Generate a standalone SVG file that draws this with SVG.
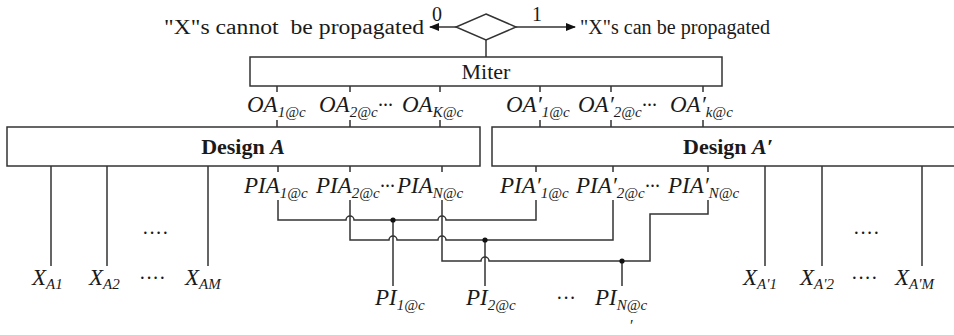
<svg xmlns="http://www.w3.org/2000/svg" width="954" height="335" viewBox="0 0 954 335">
<style>
text{font-family:"Liberation Serif","Times New Roman",serif;fill:#1a1a1a}
.t{font-size:20px}
.L{font-size:23px}
.i{font-style:italic}
.b{font-weight:bold}
.box{fill:#fff;stroke:#333;stroke-width:1.5}
.w{fill:none;stroke:#333;stroke-width:1.5}
.s{font-size:15px}
.dot{fill:#111}
</style>
<defs>
<marker id="ah" markerWidth="10" markerHeight="8" refX="9" refY="4" orient="auto" markerUnits="userSpaceOnUse">
<path d="M0,0 L10,4 L0,8 Z" fill="#111"/>
</marker>
</defs>
<rect width="954" height="335" fill="#fff"/>

<g id="decision">
<path class="w" d="M486,14 L516,27 L486,40 L456,27 Z"/>
<text class="t" x="437" y="21" text-anchor="middle">0</text>
<text class="t" x="537" y="21" text-anchor="middle">1</text>
<text class="t" x="164" y="34" textLength="260" lengthAdjust="spacingAndGlyphs" xml:space="preserve">"X"s cannot  be propagated</text>
<text class="t" x="580" y="34" textLength="190" lengthAdjust="spacingAndGlyphs">"X"s can be propagated</text>
</g>

<g id="miter">
<rect class="box" x="250" y="57" width="472" height="29"/>
<text class="t" x="486" y="79" text-anchor="middle" style="font-size:22px">Miter</text>
</g>

<g id="designA">
<rect class="box" x="7" y="127" width="473" height="39"/>
<text class="t b" x="243" y="154" text-anchor="middle" style="font-size:22px">Design <tspan class="i">A</tspan></text>
</g>

<g id="designA2">
<rect class="box" x="492" y="127" width="470" height="39"/>
<text class="t b" x="728" y="154" text-anchor="middle" style="font-size:22px">Design <tspan class="i">A′</tspan></text>
</g>

<g id="oa-labels">
<text class="L i" x="247" y="112">OA<tspan class="s" dy="5">1@c</tspan></text>
<text class="L i" x="319" y="112">OA<tspan class="s" dy="5">2@c</tspan><tspan class="t" dy="-5">···</tspan></text>
<text class="L i" x="402" y="112">OA<tspan class="s" dy="5">K@c</tspan></text>
<text class="L i" x="506" y="112">OA′<tspan class="s" dy="5">1@c</tspan></text>
<text class="L i" x="578" y="112">OA′<tspan class="s" dy="5">2@c</tspan><tspan class="t" dy="-5">···</tspan></text>
<text class="L i" x="670" y="112">OA′<tspan class="s" dy="5">k@c</tspan></text>
</g>

<g id="pia-labels">
<text class="L i" x="244" y="193">PIA<tspan class="s" dy="5">1@c</tspan></text>
<text class="L i" x="316" y="193">PIA<tspan class="s" dy="5">2@c</tspan><tspan class="t" dy="-5">···</tspan></text>
<text class="L i" x="397" y="193">PIA<tspan class="s" dy="5">N@c</tspan></text>
<text class="L i" x="500" y="193">PIA′<tspan class="s" dy="5">1@c</tspan></text>
<text class="L i" x="576" y="193">PIA′<tspan class="s" dy="5">2@c</tspan><tspan class="t" dy="-5">···</tspan></text>
<text class="L i" x="668" y="193">PIA′<tspan class="s" dy="5">N@c</tspan></text>
</g>

<g id="x-labels">
<text class="L i" x="32" y="285">X<tspan class="s" dy="4">A1</tspan></text>
<text class="L i" x="89" y="285">X<tspan class="s" dy="4">A2</tspan></text>
<text class="t" x="139" y="285">····</text>
<text class="L i" x="185" y="285">X<tspan class="s" dy="4">AM</tspan></text>
<text class="t" x="142" y="240">····</text>
<text class="L i" x="743" y="285">X<tspan class="s" dy="4">A'1</tspan></text>
<text class="L i" x="800" y="285">X<tspan class="s" dy="4">A'2</tspan></text>
<text class="t" x="851" y="285">····</text>
<text class="L i" x="895" y="285">X<tspan class="s" dy="4">A'M</tspan></text>
<text class="t" x="853" y="240">····</text>
</g>

<g id="pi-labels">
<text class="L i" x="375" y="305">PI<tspan class="s" dy="5">1@c</tspan></text>
<text class="L i" x="466" y="305">PI<tspan class="s" dy="5">2@c</tspan></text>
<text class="t" x="556" y="305">···</text>
<text class="L i" x="595" y="305">PI<tspan class="s" dy="5">N@c</tspan></text>
<text class="i" x="629" y="331" style="font-size:16px">′</text>
</g>

<g id="connectors">
<line class="w" x1="456" y1="27" x2="430" y2="27" marker-end="url(#ah)"/>
<line class="w" x1="516" y1="27" x2="575" y2="27" marker-end="url(#ah)"/>
<line class="w" x1="486" y1="40" x2="486" y2="57"/>
<path class="w" d="M277,86V92M277,120V127M350,86V92M350,120V127M440,86V92M440,120V127M540,86V92M540,120V127M611,86V92M611,120V127M703,86V92M703,120V127"/>
<path class="w" d="M278,166V172M350,166V172M442,166V172M536,166V172M613,166V172M708,166V172"/>
<path class="w" d="M51,166V266M107,166V266M208,166V266M765,166V266M822,166V266M922,166V266"/>
<path class="w" d="M278,200V220H346a4,4 0 0 1 8,0H438a4,4 0 0 1 8,0H536V200"/>
<path class="w" d="M350,200V240H389a4,4 0 0 1 8,0H438a4,4 0 0 1 8,0H613V200"/>
<path class="w" d="M442,200V261H481a4,4 0 0 1 8,0H650V214H708V200"/>
<path class="w" d="M393,220V286M485,240V286M622,261V286"/>
<circle class="dot" cx="393" cy="220" r="2.6"/>
<circle class="dot" cx="485" cy="240" r="2.6"/>
<circle class="dot" cx="622" cy="261" r="2.6"/>
</g>
</svg>
